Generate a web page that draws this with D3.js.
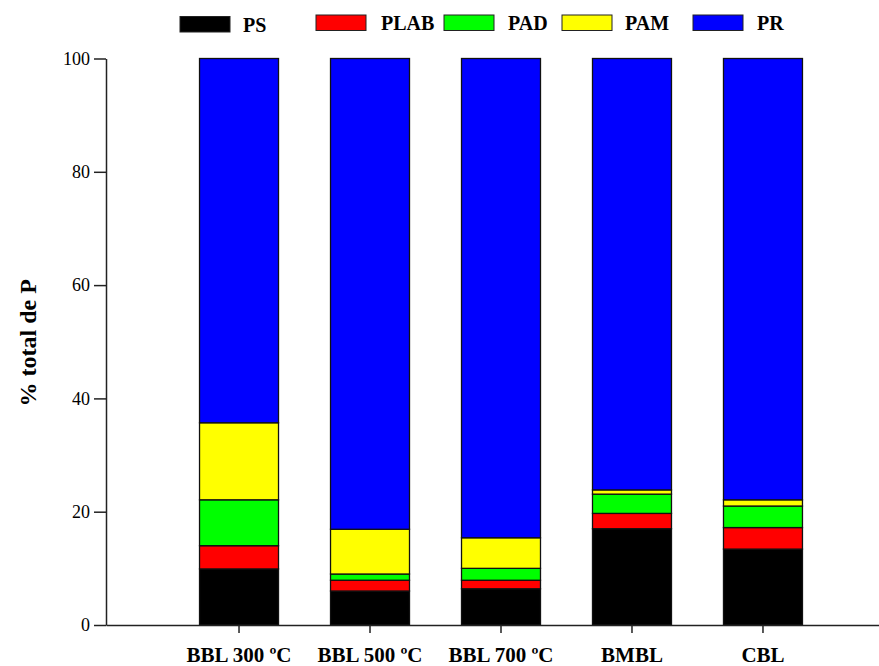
<!DOCTYPE html>
<html>
<head>
<meta charset="utf-8">
<script src="https://cdn.jsdelivr.net/npm/d3@7"></script>
<style>
  body { margin: 0; background: #fff; }
  svg { display: block; }
</style>
</head>
<body>
<div id="wrapper"></div>
<script>
// data
const categories = ["BBL 300 ºC", "BBL 500 ºC", "BBL 700 ºC", "BMBL", "CBL"]
const seriesNames = ["PS", "PLAB", "PAD", "PAM", "PR"]
const PS   = [9.9, 6.0, 6.4, 17.0, 13.4]
const PLAB = [4.1, 1.9, 1.5, 2.7, 3.8]
const PAD  = [8.1, 1.1, 2.1, 3.4, 3.8]
const PAM  = [13.6, 7.9, 5.4, 0.75, 1.1]
const PR   = [64.3, 83.1, 84.6, 76.15, 77.9]
const yTicks = [0, 20, 40, 60, 80, 100]

const colors = ["#000000", "#ff0000", "#00ff00", "#ffff00", "#0000ff"]
const serif = "'Liberation Serif', 'Times New Roman', serif"
// legend layout (swatch x, text x)
const legendSwatchX = [180, 316, 444, 562, 693]
const legendTextX = [243, 381, 508, 625, 757]

async function drawChart() {
  const seriesValues = [PS, PLAB, PAD, PAM, PR]
  const table = categories.map((c, i) => {
    const row = { category: c }
    seriesNames.forEach((s, j) => row[s] = seriesValues[j][i])
    return row
  })

  let dimensions = {
    width: 879,
    height: 666,
    margin: { top: 58.5, right: 0, bottom: 41, left: 106 },
  }
  dimensions.boundedWidth = dimensions.width - dimensions.margin.left - dimensions.margin.right
  dimensions.boundedHeight = dimensions.height - dimensions.margin.top - dimensions.margin.bottom

  const wrapper = d3.select("#wrapper")
    .append("svg")
      .attr("width", dimensions.width)
      .attr("height", dimensions.height)
      .style("font-family", serif)

  const bounds = wrapper.append("g")
      .attr("transform", `translate(${dimensions.margin.left}, ${dimensions.margin.top})`)

  // scales
  const xScale = d3.scaleBand()
    .domain(categories)
    .range([0, 790])
    .paddingInner(0.397)
    .paddingOuter(0.714)

  const yScale = d3.scaleLinear()
    .domain([0, 100])
    .range([dimensions.boundedHeight, 0])

  const stacked = d3.stack().keys(seriesNames)(table)

  // bars
  bounds.append("g")
    .selectAll("g")
    .data(stacked)
    .join("g")
      .attr("fill", (d, i) => colors[i])
    .selectAll("rect")
    .data(d => d)
    .join("rect")
      .attr("x", d => xScale(d.data.category))
      .attr("width", xScale.bandwidth())
      .attr("y", d => yScale(d[1]))
      .attr("height", d => yScale(d[0]) - yScale(d[1]))
      .attr("stroke", "#111")
      .attr("stroke-width", 1.3)

  // axes
  const yAxisGenerator = d3.axisLeft(yScale)
    .tickValues(yTicks)
    .tickSize(12)
    .tickSizeOuter(0)
    .tickPadding(4)

  const yAxis = bounds.append("g")
      .call(yAxisGenerator)
      .attr("font-family", serif)
      .attr("font-size", 18)
  yAxis.selectAll("text")
      .attr("fill", "#000")
  yAxis.selectAll("line, path")
      .attr("stroke", "#222")
      .attr("stroke-width", 1.5)

  const xAxisGenerator = d3.axisBottom(xScale)
    .tickSize(8)
    .tickSizeOuter(0)
    .tickPadding(14)

  const xAxis = bounds.append("g")
      .attr("transform", `translate(0, ${dimensions.boundedHeight})`)
      .call(xAxisGenerator)
      .attr("font-family", serif)
      .attr("font-size", 21)
      .attr("font-weight", "bold")
  xAxis.selectAll("text")
      .attr("fill", "#000")
  xAxis.selectAll("line, path")
      .attr("stroke", "#222")
      .attr("stroke-width", 1.5)

  // y axis title
  wrapper.append("text")
      .attr("transform", `translate(36, ${dimensions.margin.top + dimensions.boundedHeight / 2 + 1}) rotate(-90)`)
      .attr("text-anchor", "middle")
      .attr("font-weight", "bold")
      .attr("font-size", 24)
      .text("% total de P")

  // legend
  const legend = wrapper.append("g")
  const items = legend.selectAll("g")
    .data(seriesNames)
    .join("g")
      .attr("transform", (d, i) => `translate(0, ${i === 0 ? 1.5 : 0})`)

  items.append("rect")
      .attr("x", (d, i) => legendSwatchX[i])
      .attr("y", 15)
      .attr("width", 50)
      .attr("height", 15.5)
      .attr("fill", (d, i) => colors[i])
      .attr("stroke", "#222")
      .attr("stroke-width", 1)

  items.append("text")
      .attr("x", (d, i) => legendTextX[i])
      .attr("y", 30)
      .attr("font-weight", "bold")
      .attr("font-size", 20)
      .text(d => d)
}
drawChart()
</script>
</body>
</html>
